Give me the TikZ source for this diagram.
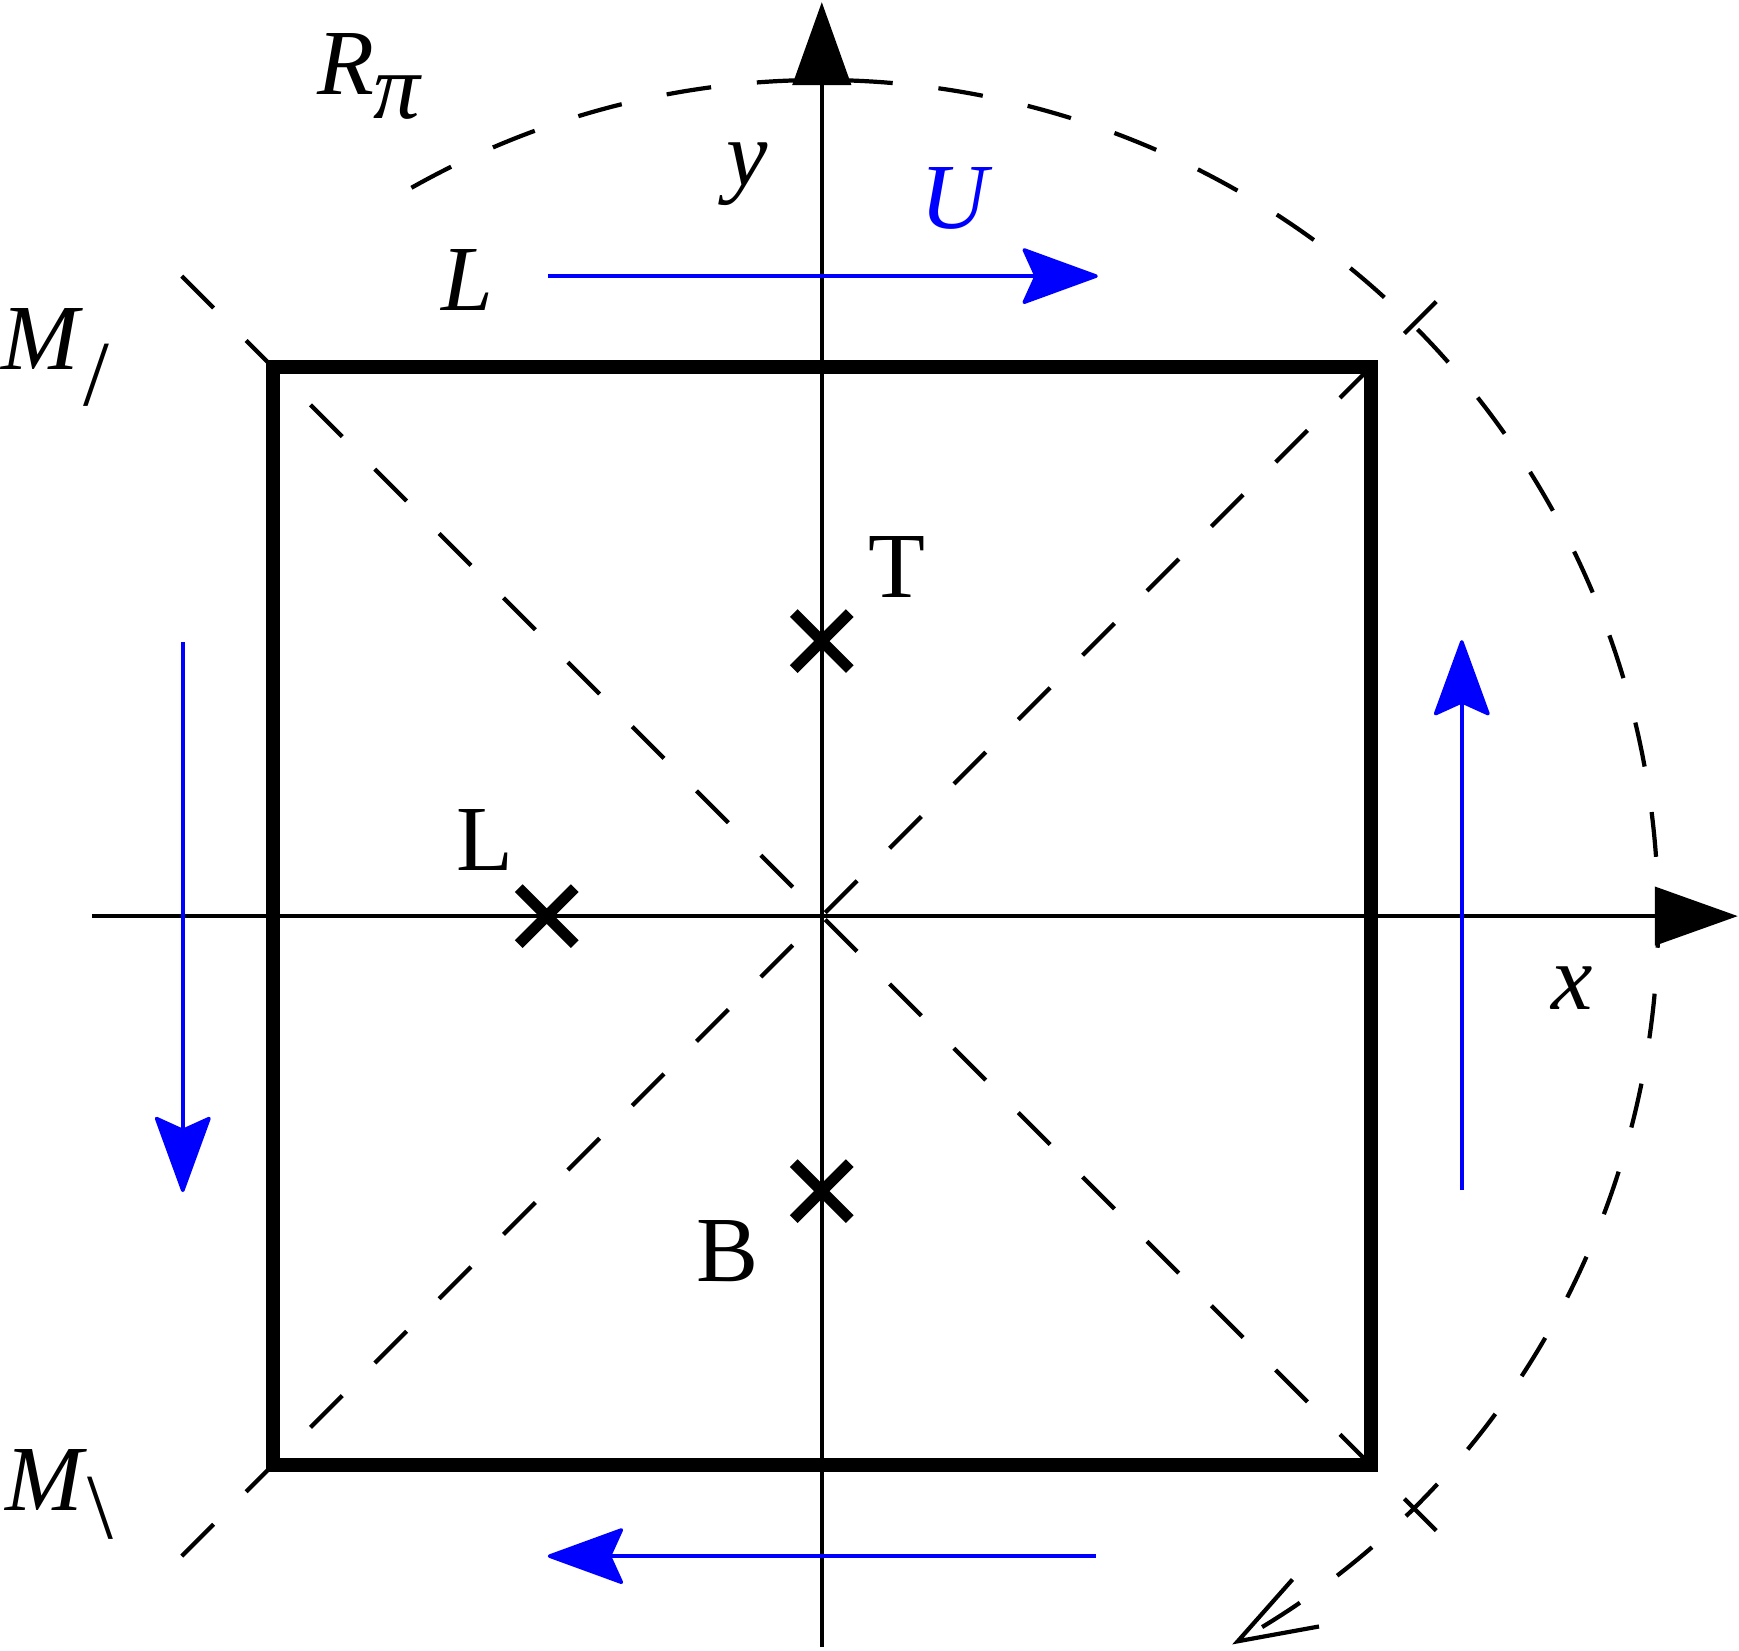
\documentclass[tikz,border=0pt]{standalone}
\usepackage{fontspec}
\setmainfont{Liberation Serif}
\usepackage{tikz}
\usetikzlibrary{arrows.meta,shapes.misc}

\begin{document}
\begin{tikzpicture}[line join=miter,
        axis/.style={line width=1.3pt,-{Triangle[length=0.83cm,width=0.58cm]}},
        dashline/.style={line width=1.2pt,dash pattern=on 0.45cm off 0.46cm},
        flow/.style={blue,line width=1pt,-{Stealth[length=0.8cm,width=0.58cm,inset=0.13cm,round]}},
        crossmark/.style={cross out,draw,line width=3.1pt,minimum size=0.56cm,inner sep=0pt,outer sep=0pt},
        lbl/.style={inner sep=0pt,anchor=base,font=\fontsize{26.5}{26.5}\selectfont}]

  \useasboundingbox (-8.218,-7.342) rectangle (9.172,9.161);

  % the square
  \node[draw,line width=3.9pt,minimum size=10.98cm,inner sep=0pt] (sq) at (0,0) {};

  % axes
  \coordinate (xl) at (-7.30,0);
  \coordinate (xr) at (9.16,0);
  \coordinate (yb) at (0,-7.31);
  \coordinate (yt) at (0,9.14);
  \draw[axis] (xl) -- (xr);
  \draw[axis] (yb) -- (yt);

  % mirror lines
  \coordinate (d1) at (-6.4,6.4);
  \coordinate (d2) at (6.4,-6.4);
  \coordinate (d3) at (-6.4,-6.4);
  \coordinate (d4) at (6.4,6.4);
  \draw[dashline] (d1) -- (d2);
  \draw[dashline] (d3) -- (d4);

  % rotation
  \coordinate (rs) at (119.4:8.36);
  \draw[dashline,-{Straight Barb[length=0.78cm,width=0.54cm]}] (rs)
        arc[start angle=119.4,end angle=-60.6,radius=8.36];

  % flow arrows
  \coordinate (ta) at (-2.74,6.40);
  \coordinate (tb) at (2.76,6.40);
  \coordinate (ba) at (2.74,-6.40);
  \coordinate (bb) at (-2.74,-6.40);
  \coordinate (la) at (-6.39,2.74);
  \coordinate (lb) at (-6.39,-2.76);
  \coordinate (ra) at (6.40,-2.74);
  \coordinate (rb) at (6.40,2.76);
  \draw[flow] (ta) -- (tb);
  \draw[flow] (ba) -- (bb);
  \draw[flow] (la) -- (lb);
  \draw[flow] (ra) -- (rb);

  % points
  \node[crossmark] (cT) at (0,2.75) {};
  \node[crossmark] (cL) at (-2.75,0) {};
  \node[crossmark] (cB) at (0,-2.75) {};

  % labels
  \node[lbl] (Rpi) at (-4.53,8.22) {\textit{R\raisebox{-0.24cm}{π}}};
  \node[lbl] (ylab) at (-0.75,7.31) {\textit{y}};
  \node[lbl,blue] (Ulab) at (1.35,6.88) {\textit{U}};
  \node[lbl] (Llab) at (-3.54,6.06) {\textit{L}};
  \node[lbl] (Mslash) at (-7.66,5.47) {\textit{M}\raisebox{-0.36cm}{/}};
  \node[lbl] (Mback) at (-7.62,-5.94) {\textit{M}\raisebox{-0.28cm}{\textbackslash}};
  \node[lbl] (xlab) at (7.50,-0.93) {\textit{x}};
  \node[lbl] (Tlab) at (0.75,3.19) {T};
  \node[lbl] (Lpt) at (-3.37,0.46) {L};
  \node[lbl] (Blab) at (-0.94,-3.65) {B};

\end{tikzpicture}
\end{document}
